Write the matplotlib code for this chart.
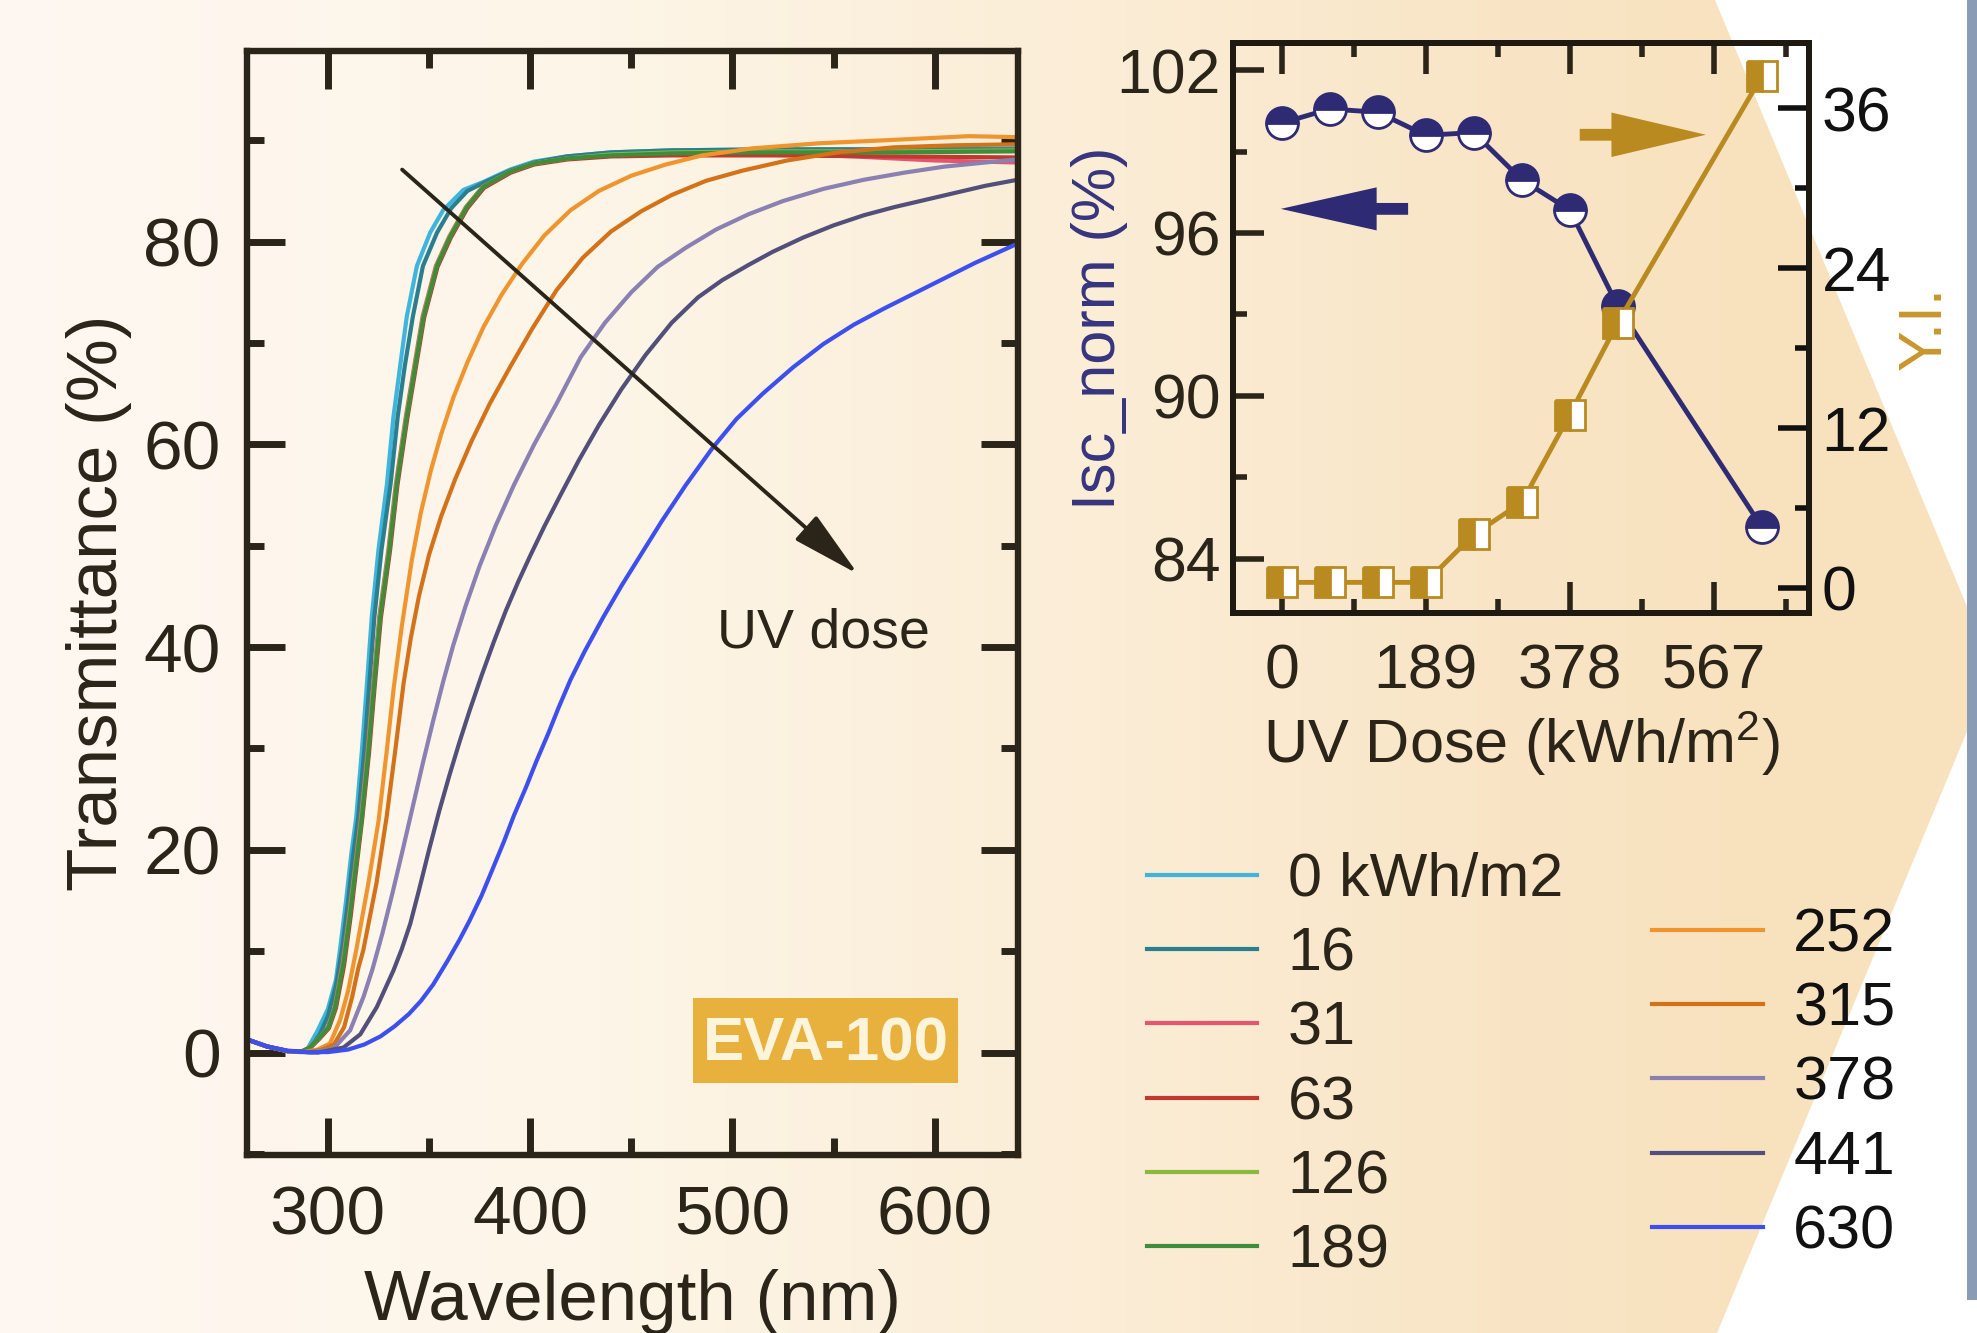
import numpy as np
import matplotlib
matplotlib.use('Agg')
import matplotlib.pyplot as plt
from matplotlib.patches import Polygon, Rectangle
from matplotlib.ticker import MultipleLocator

plt.rcParams['font.family'] = ['Liberation Sans', 'DejaVu Sans']
plt.rcParams['mathtext.default'] = 'regular'

# --- transmittance spectra (wavelength nm, T %), one per UV dose ---
wl_0 = [260, 270, 280, 286, 290, 295, 300, 304, 306, 309, 311.5, 314, 316.8, 319.3, 321.7, 325, 329.2, 332.4, 335.7, 339,
        344, 350.6, 357, 367, 377, 390, 402, 418, 440, 470, 520, 580, 641]
t_0 = [1.3, 0.6, 0.15, 0.05, 0.4, 2.2, 4.3, 7.2, 10.2, 15.0, 19.5, 23.2, 29.8, 36.4, 43.0, 49.6, 56.1, 62.7, 67.7, 72.6,
       77.6, 80.9, 83.1, 85.1, 85.9, 87.1, 87.9, 88.4, 88.8, 89.0, 89.1, 89.1, 89.2]

wl_16 = [260, 270, 280, 287, 291, 296, 300, 304, 307, 310, 312.5, 315, 318, 320.5, 323, 326.5, 331, 334.5, 338, 342,
         347, 354, 361, 369, 378, 390, 402, 418, 440, 470, 520, 580, 641]
t_16 = [1.3, 0.6, 0.15, 0.05, 0.4, 1.8, 3.6, 6.6, 10.2, 15.0, 19.5, 23.2, 29.8, 36.4, 43.0, 49.6, 56.1, 62.7, 67.7, 72.6,
        77.6, 80.9, 83.3, 85.0, 85.9, 87.0, 87.8, 88.4, 88.8, 89.0, 89.1, 89.1, 89.1]

wl_31 = [260, 270, 280, 287, 291, 296, 300, 303.3, 307.2, 310.5, 312.6, 316.3, 319.6, 322.4, 325.4, 329.9, 333.6, 338.5,
         342.7, 346.8, 353.4, 360, 368.2, 376.5, 390, 401.6, 418.1, 440, 470, 520, 560, 600, 641]
t_31 = [1.3, 0.6, 0.15, 0.1, 0.5, 1.5, 2.5, 4.5, 8.8, 13.7, 17.0, 23.2, 29.8, 36.4, 43.0, 49.6, 56.1, 62.7, 67.7, 72.6,
        77.6, 80.5, 83.4, 85.4, 86.9, 87.7, 88.2, 88.5, 88.7, 88.7, 88.4, 88.0, 87.8]

wl_63 = [260, 270, 280, 287, 291, 296, 300.5, 304, 308, 311.3, 313.3, 317, 320.4, 323.2, 326.2, 330.7, 334.4, 339.3,
         343.5, 347.6, 354.2, 360.8, 369, 377.2, 390.4, 401.9, 418.4, 440, 470, 520, 580, 641]
t_63 = [1.3, 0.6, 0.15, 0.1, 0.4, 1.4, 2.4, 4.4, 8.6, 13.5, 16.9, 23.1, 29.7, 36.3, 42.9, 49.5, 56.0, 62.6, 67.6, 72.5,
        77.5, 80.4, 83.3, 85.3, 86.8, 87.6, 88.1, 88.4, 88.5, 88.5, 88.4, 88.3]

wl_126 = [260, 270, 280, 287, 291, 296, 300.2, 303.5, 307.5, 310.8, 312.8, 316.6, 319.9, 322.7, 325.7, 330.2, 333.9, 338.8,
          343, 347.1, 353.7, 360.3, 368.5, 376.7, 390, 401.6, 418.1, 440, 470, 520, 580, 641]
t_126 = [1.3, 0.6, 0.15, 0.1, 0.5, 1.5, 2.5, 4.5, 8.8, 13.7, 17.0, 23.2, 29.8, 36.4, 43.0, 49.6, 56.1, 62.7, 67.7, 72.6,
         77.6, 80.5, 83.4, 85.4, 86.9, 87.7, 88.2, 88.6, 88.8, 88.9, 88.9, 89.0]

wl_189 = [260, 270, 280, 287, 291, 296, 300.3, 303.6, 307.7, 311, 313, 316.8, 320.1, 322.9, 325.9, 330.4, 334.1, 339,
          343.2, 347.3, 353.9, 360.5, 368.7, 376.9, 390.1, 401.6, 418.1, 440, 470, 520, 580, 641]
t_189 = [1.3, 0.6, 0.15, 0.1, 0.5, 1.5, 2.5, 4.5, 8.8, 13.7, 17.0, 23.2, 29.8, 36.4, 43.0, 49.6, 56.1, 62.7, 67.7, 72.6,
         77.6, 80.5, 83.4, 85.4, 86.9, 87.7, 88.2, 88.5, 88.7, 88.8, 88.8, 88.9]

wl_252 = [260, 270, 280, 288, 295, 301, 306, 310, 314, 320, 325, 329, 332.5, 336.5, 341.5, 346, 351, 356, 362, 369,
          377, 386, 396, 407, 420, 434, 450, 467, 485, 510, 543, 576, 617, 641]
t_252 = [1.3, 0.6, 0.15, 0.05, 0.3, 0.9, 3.2, 6.1, 10.1, 16.7, 22.8, 29.6, 35.9, 42.0, 48.6, 53.3, 57.5, 61.0, 64.6, 68.1,
         71.6, 74.8, 77.8, 80.6, 83.1, 85.0, 86.5, 87.6, 88.5, 89.2, 89.7, 90.0, 90.4, 90.3]

wl_315 = [260, 270, 280, 290, 297, 303, 308, 312, 315, 317.5, 324, 329, 333.3, 337.4, 341, 345, 350, 356, 363, 371,
          380, 390, 401, 413, 426, 440, 455, 470, 487, 505, 527, 552, 580, 610, 641]
t_315 = [1.3, 0.6, 0.15, 0.05, 0.3, 0.8, 2.5, 5.5, 8.3, 10.1, 16.7, 23.2, 29.8, 36.4, 40.9, 45.0, 49.1, 52.9, 56.6, 60.3,
         64.0, 67.6, 71.4, 75.2, 78.4, 81.0, 83.0, 84.6, 86.0, 87.0, 88.0, 88.8, 89.3, 89.5, 89.6]

wl_378 = [260, 270, 280, 292, 302.8, 311, 317.6, 322, 327, 332, 337, 342, 347, 352, 357, 362, 368, 375, 383, 392,
          402, 413, 425, 437, 450, 463, 477, 492, 508, 525, 545, 565, 585, 605, 625, 641]
t_378 = [1.3, 0.6, 0.15, 0.0, 0.4, 2.2, 5.5, 8.2, 11.8, 15.8, 20.0, 24.3, 28.6, 32.7, 36.6, 40.2, 44.0, 48.0, 52.0, 56.0,
         60.0, 64.0, 68.6, 72.0, 75.0, 77.5, 79.4, 81.2, 82.7, 84.0, 85.2, 86.1, 86.8, 87.4, 87.8, 88.1]

wl_441 = [260, 270, 280, 295, 307.7, 316, 324.2, 332.4, 336.5, 340.7, 345, 350, 355, 360, 365, 370, 376, 382, 388, 394,
          400, 407, 415, 424, 434, 445, 457, 470, 483, 495, 508, 520, 535, 550, 565, 580, 595, 610, 625, 641]
t_441 = [1.3, 0.6, 0.15, 0.0, 0.5, 1.8, 4.5, 8.1, 10.2, 12.7, 16.0, 20.0, 23.8, 27.3, 30.6, 33.7, 37.2, 40.5, 43.6, 46.4,
         49.0, 51.9, 55.0, 58.4, 61.9, 65.4, 68.8, 72.0, 74.5, 76.2, 77.7, 79.0, 80.4, 81.6, 82.6, 83.4, 84.1, 84.8,
         85.5, 86.1]

wl_630 = [260, 270, 280, 290, 300, 310, 318, 326, 333, 340, 346, 352, 359, 365, 370, 376, 381, 387, 392, 398, 403, 409,
          414, 420, 427, 436, 445, 455, 465, 477, 490, 502, 515, 530, 545, 560, 575, 590, 605, 620, 641]
t_630 = [1.3, 0.6, 0.2, 0.05, 0.05, 0.3, 0.8, 1.6, 2.6, 3.8, 5.1, 6.7, 9.0, 11.1, 13.0, 15.5, 17.9, 20.8, 23.4, 26.2,
         28.7, 31.5, 34.0, 36.8, 39.6, 42.9, 46.0, 49.2, 52.4, 56.0, 59.6, 62.5, 65.0, 67.6, 69.9, 71.8, 73.4, 74.9,
         76.4, 77.9, 79.8]

spectra = [(wl_0, t_0), (wl_16, t_16), (wl_31, t_31), (wl_63, t_63), (wl_126, t_126), (wl_189, t_189),
           (wl_252, t_252), (wl_315, t_315), (wl_378, t_378), (wl_441, t_441), (wl_630, t_630)]
labels = ['0 kWh/m2', '16', '31', '63', '126', '189', '252', '315', '378', '441', '630']
colors = ['#3db5dc', '#2a7f8e', '#e3566f', '#c0392f', '#8cb83f', '#3f8c3a',
          '#f0952e', '#d4721a', '#8a80b2', '#52507a', '#3d50ee']

# --- inset: Isc and yellowness index vs UV dose ---
dose = [0, 63, 126, 189, 252, 315, 378, 441, 630]
isc_norm = [100.05, 100.57, 100.45, 99.6, 99.7, 97.96, 96.85, 93.3, 85.17]
yi = [0.4, 0.4, 0.4, 0.4, 4.0, 6.4, 13.0, 19.9, 38.4]

dark = '#2b2519'
navy = '#2e2b74'
gold = '#b98a1f'

W, H = 1977, 1333
fig = plt.figure(figsize=(W / 100, H / 100), dpi=100)

# background: warm gradient, white chevron cut, blue-grey edge bar
bg = fig.add_axes([0, 0, 1, 1], zorder=-10)
bg.set_xlim(0, W)
bg.set_ylim(H, 0)
bg.axis('off')
stop_x = [0, 600, 1100, 1500, 1750]
stop_rgb = np.array([(255, 248, 242), (253, 245, 231), (251, 237, 214), (249, 229, 198), (248, 226, 190)]) / 255
cols = np.arange(W)
grad = np.stack([np.interp(cols, stop_x, stop_rgb[:, i]) for i in range(3)], axis=-1)
bg.imshow(np.repeat(grad[None, :, :], 2, axis=0), extent=(0, W, H, 0), aspect='auto')
bg.add_patch(Polygon([(1715, 0), (1993, 669), (1717, H), (W + 50, H), (W + 50, 0)], closed=True,
                     fc='white', ec='none'))
bg.add_patch(Rectangle((1967, 0), 12, 1300, fc='#8a9bb6', ec='none'))

# --- left panel ---
ax = fig.add_axes([247 / W, 1 - 1155 / H, (1018 - 247) / W, (1155 - 51) / H])
ax.patch.set_alpha(0)
for (wl, t), c in zip(spectra, colors):
    ax.plot(wl, t, color=c, lw=3.0)
ax.set_xlim(260, 641.2)
ax.set_ylim(-10.1, 98.8)
ax.xaxis.set_major_locator(MultipleLocator(100))
ax.xaxis.set_minor_locator(MultipleLocator(50))
ax.yaxis.set_major_locator(MultipleLocator(20))
ax.yaxis.set_minor_locator(MultipleLocator(10))
ax.tick_params(which='both', direction='in', top=True, right=True, color=dark, width=5,
               labelsize=50, labelcolor=dark)
ax.tick_params(which='major', length=27)
ax.tick_params(which='minor', length=12)
ax.tick_params(axis='x', pad=21)
ax.tick_params(axis='y', pad=19)
for s in ax.spines.values():
    s.set_linewidth(4.6)
    s.set_color(dark)
ax.set_xlabel('Wavelength (nm)', fontsize=51, color=dark)
ax.set_ylabel('Transmittance (%)', fontsize=51, color=dark)
ax.xaxis.set_label_coords(0.5, -0.103)
ax.yaxis.set_label_coords(-0.149, 0.5)

ax.annotate('', xy=(562.1, 47.2), xytext=(336.7, 87.1),
            arrowprops=dict(arrowstyle='-|>,head_length=4.3,head_width=1.0', color=dark, lw=2.8,
                            shrinkA=0, shrinkB=0, mutation_scale=10))
ax.text(492.3, 40.0, 'UV dose', fontsize=40, color=dark, ha='left', va='baseline')
ax.add_patch(Rectangle((480.6, -2.96), 131.0, 8.39, fc='#e8b03c', ec='none'))
ax.text(546.1, -0.8, 'EVA-100', fontsize=44.5, fontweight='bold', color='#fdf4dc', ha='center', va='baseline')

handles = ax.get_lines()
fig.legend(handles[:6], labels[:6], loc='upper left', bbox_to_anchor=(1147 / W, 1 - 852 / H),
           frameon=False, fontsize=44, handlelength=1.8, handletextpad=0.5, labelspacing=0.284,
           borderpad=0, borderaxespad=0, labelcolor=dark)
fig.legend(handles[6:], labels[6:], loc='upper left', bbox_to_anchor=(1652 / W, 1 - 907 / H),
           frameon=False, fontsize=44, handlelength=1.82, handletextpad=0.49, labelspacing=0.284,
           borderpad=0, borderaxespad=0, labelcolor='#111111')

# --- right panel ---
axr = fig.add_axes([1233 / W, 1 - 613 / H, 576 / W, 570 / H])
axr.patch.set_alpha(0)
axr.plot(dose, isc_norm, '-o', color=navy, lw=3.5, ms=23, mfc=navy, mfcalt='white',
         fillstyle='top', mec=navy, mew=2)
axr.set_xlim(-64, 692)
axr.set_ylim(82, 103)
axr.set_xticks([0, 189, 378, 567])
axr.xaxis.set_minor_locator(MultipleLocator(94.5))
axr.yaxis.set_major_locator(MultipleLocator(6))
axr.yaxis.set_minor_locator(MultipleLocator(3))
axr.tick_params(which='both', direction='in', top=True, right=False, color=dark, width=4,
                labelsize=45, labelcolor=dark)
axr.tick_params(which='major', length=22)
axr.tick_params(which='minor', length=10)
axr.tick_params(axis='x', pad=21)
axr.tick_params(axis='y', pad=9)
axr.set_xlabel('UV Dose (kWh/m$^2$)', fontsize=44, color=dark)
axr.xaxis.set_label_coords(0.5, -0.167)
axr.set_ylabel('Isc_norm (%)', fontsize=44, color='#35347e')
axr.yaxis.set_label_coords(-0.182, 0.5)

axy = axr.twinx()
axy.plot(dose, yi, '-s', color=gold, lw=3.5, ms=22, mfc=gold, mfcalt='white',
         fillstyle='left', mec=gold, mew=2)
axy.set_ylim(-1.9, 40.9)
axy.yaxis.set_major_locator(MultipleLocator(12))
axy.yaxis.set_minor_locator(MultipleLocator(6))
axy.tick_params(which='both', direction='in', color='#111111', width=4, labelsize=45,
                labelcolor='#111111', pad=9)
axy.tick_params(which='major', length=22)
axy.tick_params(which='minor', length=10)
axy.set_ylabel('Y.I.', fontsize=44, color='#c9962d')
axy.yaxis.set_label_coords(1.153, 0.5)
for a in (axr, axy):
    for s in a.spines.values():
        s.set_linewidth(4.3)
        s.set_color('#1e1a12')

axr.annotate('', xy=(0.083, 0.709), xytext=(0.304, 0.709), xycoords='axes fraction',
             arrowprops=dict(arrowstyle='simple,head_length=1.38,head_width=0.62,tail_width=0.17',
                             fc=navy, ec='none', shrinkA=0, shrinkB=0, mutation_scale=50))
axr.annotate('', xy=(0.821, 0.839), xytext=(0.602, 0.839), xycoords='axes fraction',
             arrowprops=dict(arrowstyle='simple,head_length=1.36,head_width=0.64,tail_width=0.17',
                             fc=gold, ec='none', shrinkA=0, shrinkB=0, mutation_scale=50))

fig.savefig('out.png', dpi=100)
